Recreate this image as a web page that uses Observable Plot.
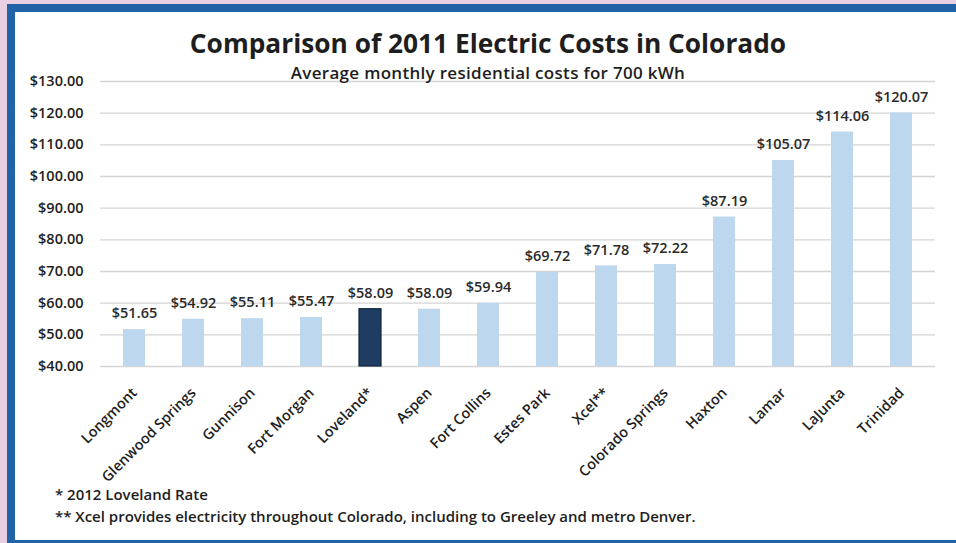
<!DOCTYPE html>
<html>
<head>
<meta charset="utf-8">
<script src="https://cdn.jsdelivr.net/npm/d3@7"></script>
<script src="https://cdn.jsdelivr.net/npm/@observablehq/plot@0.6"></script>
<style>
  body { margin: 0; }
  #wrap { position: relative; width: 956px; height: 543px; background: #e9cfe2; overflow: hidden; font-family: "Open Sans", Lato, sans-serif; color: #1e1e1e; }
  #panel { position: absolute; left: 7px; top: 4px; width: 949px; height: 528px; background: #fff;
           border-left: 8px solid #2262a6; border-top: 8px solid #2262a6; border-bottom: 3px solid #2262a6; box-sizing: content-box; }
  #chart { position: absolute; left: 0; top: 0; }
  .title { position: absolute; left: 10px; width: 956px; text-align: center; font-weight: 700; white-space: nowrap; }
  #t1 { top: 25px; font-size: 26.3px; }
  #t2 { top: 61px; font-size: 17px; font-weight: 600; letter-spacing: 0.3px; }
  .note { position: absolute; left: 55px; font-size: 15px; font-weight: 600; white-space: nowrap; }
  #n1 { top: 484px; }
  #n2 { top: 506px; }
</style>
</head>
<body>
<div id="wrap">
  <div id="panel"></div>
  <div id="chart"></div>
  <div class="title" id="t1">Comparison of 2011 Electric Costs in Colorado</div>
  <div class="title" id="t2">Average monthly residential costs for 700 kWh</div>
  <div class="note" id="n1">* 2012 Loveland Rate</div>
  <div class="note" id="n2">** Xcel provides electricity throughout Colorado, including to Greeley and metro Denver.</div>
</div>
<script>
const cities = ["Longmont", "Glenwood Springs", "Gunnison", "Fort Morgan", "Loveland*", "Aspen", "Fort Collins", "Estes Park", "Xcel**", "Colorado Springs", "Haxton", "Lamar", "LaJunta", "Trinidad"];
const costs = [51.65, 54.92, 55.11, 55.47, 58.09, 58.09, 59.94, 69.72, 71.78, 72.22, 87.19, 105.07, 114.06, 120.07];
const highlight = ["Loveland*"];
const yTicks = [40, 50, 60, 70, 80, 90, 100, 110, 120, 130];

const data = cities.map((c, i) => ({city: c, cost: costs[i], hi: highlight.includes(c)}));
const fmt = v => "$" + v.toFixed(2);

const chart = Plot.plot({
  width: 956,
  height: 543,
  marginLeft: 100,
  marginRight: 21,
  marginTop: 81,
  marginBottom: 177,
  style: { background: "transparent", fontFamily: "'Open Sans', Lato, sans-serif", color: "#1e1e1e" },
  x: { domain: cities, paddingInner: 0.63, paddingOuter: 0.315, label: null },
  y: { domain: [40, 130], label: null },
  marks: [
    Plot.gridY(yTicks, { stroke: "#d4d4d4", strokeOpacity: 1, strokeWidth: 1.3 }),
    Plot.ruleX([0], { frameAnchor: "left", stroke: "#c8c8c8", strokeWidth: 1.3 }),
    Plot.barY(data, { x: "city", y1: 40, y2: "cost", fill: d => d.hi ? "#1f3d63" : "#bdd7ee", stroke: d => d.hi ? "#10243c" : "none", strokeWidth: 1.2 }),
    Plot.text(data, { x: "city", y: "cost", text: d => fmt(d.cost), dy: -16, fontSize: 14.5, fontWeight: 600, fill: "#2a2a2a" }),
    Plot.axisY(yTicks, { tickFormat: fmt, tickSize: 0, tickPadding: 17, fontSize: 14.5, fontWeight: 600, label: null }),
    Plot.axisX({ tickRotate: -45, tickSize: 0, tickPadding: 24, fontSize: 14.5, fontWeight: 600, label: null })
  ]
});
document.getElementById("chart").appendChild(chart);
</script>
</body>
</html>
